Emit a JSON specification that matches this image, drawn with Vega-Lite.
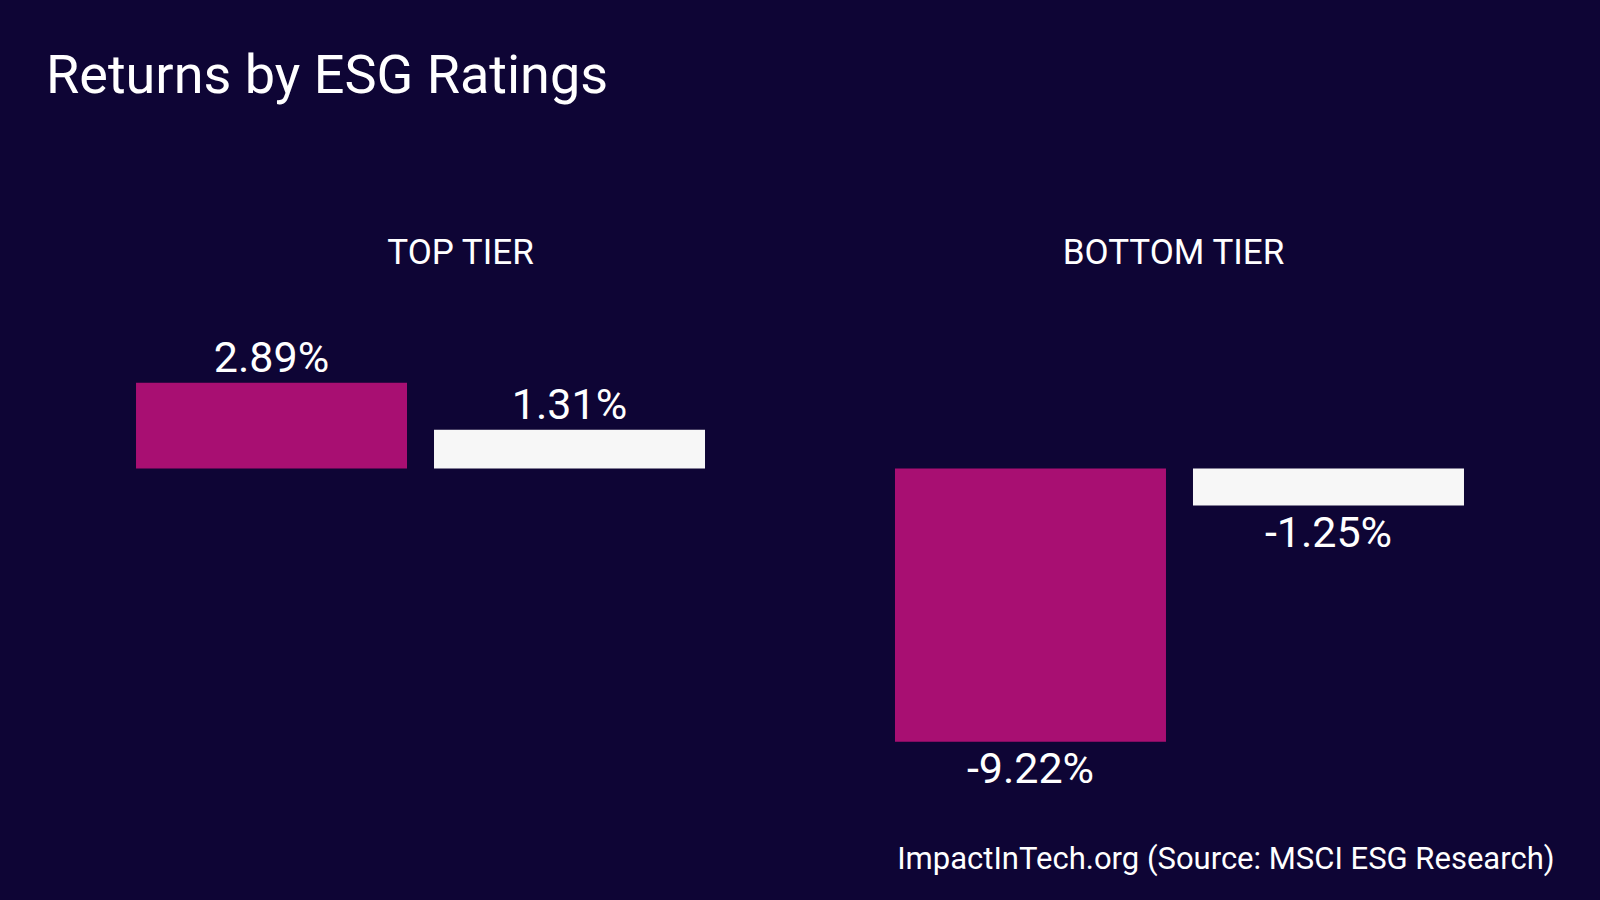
{
  "$schema": "https://vega.github.io/schema/vega-lite/v6.json",
  "width": 1600,
  "height": 900,
  "autosize": "none",
  "padding": 0,
  "background": "#0e0535",
  "config": {
    "view": {"stroke": null},
    "font": "Roboto",
    "locale": {"number": {"decimal": ".", "thousands": ",", "grouping": [3], "currency": ["$", ""], "minus": "-"}}
  },
  "title": {
    "text": "Returns by ESG Ratings",
    "anchor": "start",
    "frame": "group",
    "font": "Roboto",
    "fontSize": 54,
    "fontWeight": "normal",
    "color": "#ffffff",
    "dx": 46,
    "dy": 147,
    "offset": 0,
    "baseline": "alphabetic"
  },
  "data": {
    "values": [
      {"tier": "TOP TIER", "group": "ESG-rated", "return": 0.0289},
      {"tier": "TOP TIER", "group": "Benchmark", "return": 0.0131},
      {"tier": "BOTTOM TIER", "group": "ESG-rated", "return": -0.0922},
      {"tier": "BOTTOM TIER", "group": "Benchmark", "return": -0.0125}
    ]
  },
  "encoding": {
    "x": {
      "field": "tier",
      "type": "nominal",
      "sort": ["TOP TIER", "BOTTOM TIER"],
      "scale": {"domain": ["TOP TIER", "BOTTOM TIER"], "paddingInner": 0.2503, "paddingOuter": 0.1792},
      "axis": {
        "orient": "top",
        "offset": -263,
        "title": null,
        "domain": false,
        "ticks": false,
        "grid": false,
        "labelPadding": 0,
        "labelBaseline": "alphabetic",
        "labelFont": "Roboto",
        "labelFontSize": 35,
        "labelLimit": 0,
        "labelColor": "#ffffff",
        "labelAngle": 0,
        "labelOffset": {"condition": {"test": "datum.value === 'TOP TIER'", "value": 40}, "value": -6}
      }
    },
    "xOffset": {
      "field": "group",
      "type": "nominal",
      "scale": {"domain": ["ESG-rated", "Benchmark"], "paddingInner": 0.0906, "paddingOuter": 0}
    },
    "y": {
      "field": "return",
      "type": "quantitative",
      "scale": {"domain": [-0.14553, 0.158], "nice": false, "zero": false},
      "axis": {
        "title": "ImpactInTech.org (Source: MSCI ESG Research)",
        "labels": false,
        "ticks": false,
        "domain": false,
        "grid": false,
        "titleAngle": 0,
        "titleX": 1554,
        "titleY": 868,
        "titleAlign": "right",
        "titleBaseline": "alphabetic",
        "titleFont": "Roboto",
        "titleFontSize": 31,
        "titleFontWeight": "normal",
        "titleLimit": 0,
        "titleColor": "#ffffff"
      }
    }
  },
  "layer": [
    {
      "mark": {"type": "bar"},
      "encoding": {
        "color": {
          "field": "group",
          "type": "nominal",
          "scale": {"domain": ["ESG-rated", "Benchmark"], "range": ["#a80f72", "#f7f7f7"]},
          "legend": null
        }
      }
    },
    {
      "transform": [{"filter": "datum['return'] > 0"}],
      "mark": {"type": "text", "baseline": "alphabetic", "dy": -11, "fontSize": 43, "font": "Roboto", "color": "#ffffff"},
      "encoding": {"text": {"field": "return", "type": "quantitative", "format": ".2%"}}
    },
    {
      "transform": [{"filter": "datum['return'] < 0"}],
      "mark": {"type": "text", "baseline": "alphabetic", "dy": 41, "fontSize": 43, "font": "Roboto", "color": "#ffffff"},
      "encoding": {"text": {"field": "return", "type": "quantitative", "format": ".2%"}}
    }
  ]
}
